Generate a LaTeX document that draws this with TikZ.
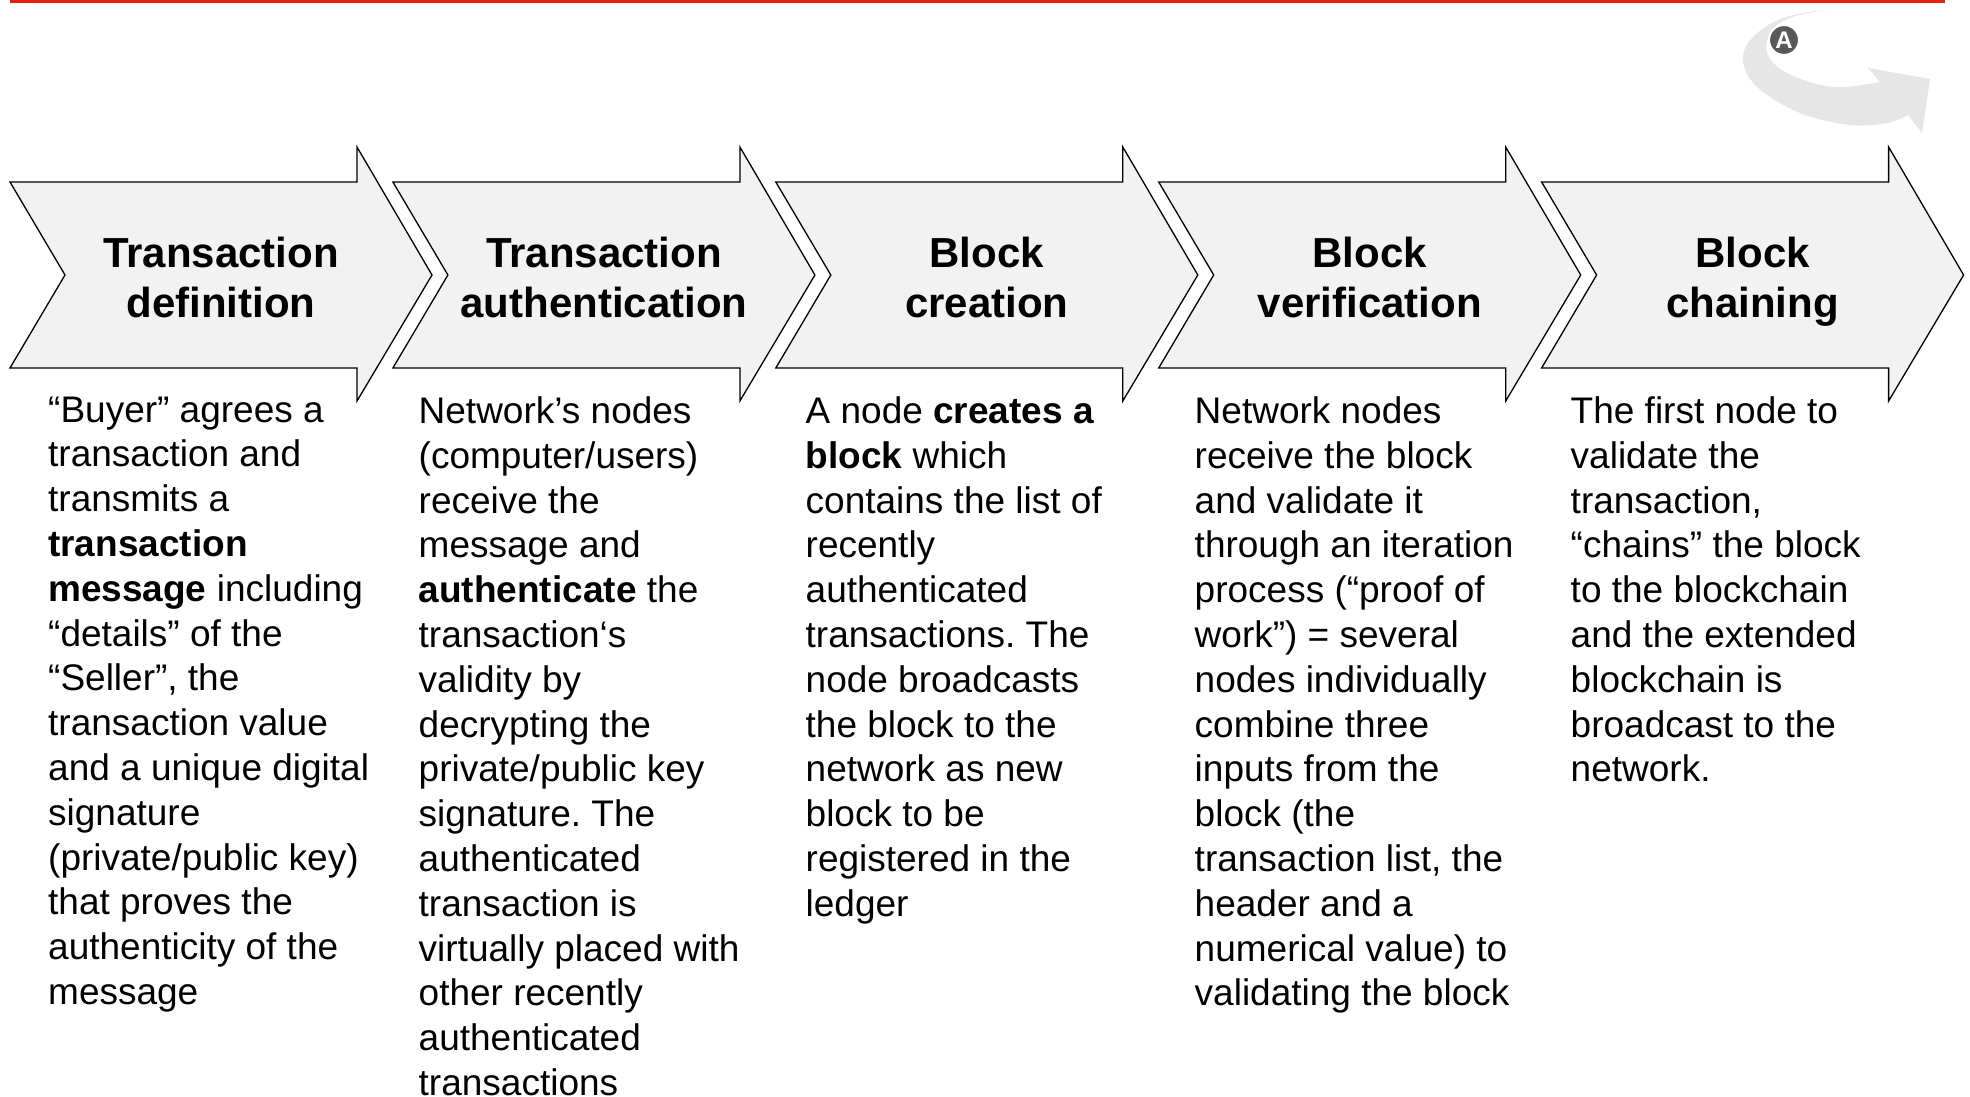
\documentclass[tikz,border=0pt]{standalone}
\usepackage{fontspec}
\setmainfont{Liberation Sans}
\frenchspacing
\definecolor{topred}{RGB}{228,32,16}
\definecolor{arrowfill}{RGB}{242,242,242}
\definecolor{iconband}{RGB}{230,230,230}
\definecolor{icondark}{RGB}{88,89,91}
\tikzset{
  stepshape/.style={draw=black, fill=arrowfill, line width=1.3pt, line join=miter},
  titletext/.style={anchor=north, inner sep=0pt, align=center, font=\fontsize{42}{50}\selectfont\bfseries},
  bodytext/.style={anchor=north west, inner sep=0pt, align=left, font=\fontsize{37}{44.8}\selectfont\frenchspacing},
}
\begin{document}
\begin{tikzpicture}[x=1pt, y=-1pt]
\path[use as bounding box] (0,0) rectangle (1970,1097);
% top red rule
\draw[topred, line width=2.6pt] (10,1.3) -- (1945,1.3);
% circular arrow icon
\fill[iconband] (1830,9) -- plot[smooth, tension=0.6] coordinates {(1830,9) (1783,18) (1753,37) (1743,60) (1757,87) (1800,113) (1850,125) (1887,123) (1908,115)}
  -- (1922,133) -- (1930,79) -- (1868,68) -- (1880,82)
  -- plot[smooth, tension=0.6] coordinates {(1880,82) (1833,87) (1787,73) (1767,53) (1772,30) (1793,17) (1830,9)} -- cycle;
\node[circle, fill=icondark, draw=white, line width=2pt, minimum size=30pt, inner sep=0pt,
      text=white, font=\fontsize{24}{24}\selectfont\bfseries] (badge) at (1784,40) {A};
% chevron arrows
\foreach \i/\nm in {0/a1,1/a2,2/a3,3/a4,4/a5}{
  \pgfmathsetmacro{\xo}{10+382.9*\i}
  \begin{scope}[xshift=\xo pt]
    \draw[stepshape] (0,182) -- (347,182) -- (347,147) -- (422,275) -- (347,401) -- (347,368) -- (0,368) -- (55,275) -- cycle;
    \coordinate (\nm) at (211,236.6);
  \end{scope}
}
% titles
\node[titletext] (t1) at (a1) {Transaction\\definition};
\node[titletext] (t2) at (a2) {Transaction\\authentication};
\node[titletext] (t3) at (a3) {Block\\creation};
\node[titletext] (t4) at (a4) {Block\\verification};
\node[titletext] (t5) at (a5) {Block\\chaining};
% descriptions
\node[bodytext] (d1) at (48,396.5) {“Buyer” agrees a\\transaction and\\transmits a\\\textbf{transaction}\\\textbf{message} including\\“details” of the\\“Seller”, the\\transaction value\\and a unique digital\\signature\\(private/public key)\\that proves the\\authenticity of the\\message};
\node[bodytext] (d2) at (418.5,396.5) {Network’s nodes\\(computer/users)\\receive the\\message and\\\textbf{authenticate} the\\transaction‘s\\validity by\\decrypting the\\private/public key\\signature. The\\authenticated\\transaction is\\virtually placed with\\other recently\\authenticated\\transactions};
\node[bodytext] (d3) at (805.5,396.5) {A node \textbf{creates a}\\\textbf{block} which\\contains the list of\\recently\\authenticated\\transactions. The\\node broadcasts\\the block to the\\network as new\\block to be\\registered in the\\ledger};
\node[bodytext] (d4) at (1194.5,396.5) {Network nodes\\receive the block\\and validate it\\through an iteration\\process (“proof of\\work”) = several\\nodes individually\\combine three\\inputs from the\\block (the\\transaction list, the\\header and a\\numerical value) to\\validating the block};
\node[bodytext] (d5) at (1570.5,396.5) {The first node to\\validate the\\transaction,\\“chains” the block\\to the blockchain\\and the extended\\blockchain is\\broadcast to the\\network.};
\end{tikzpicture}
\end{document}
